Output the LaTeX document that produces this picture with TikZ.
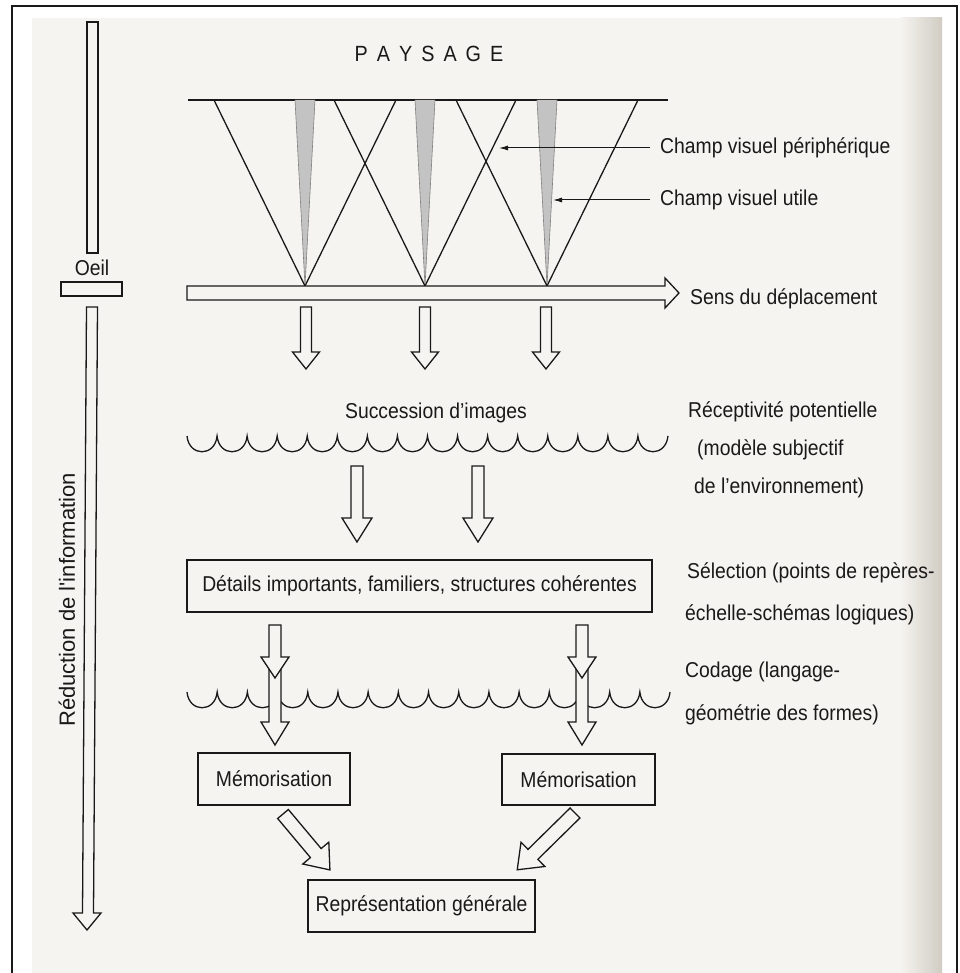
\documentclass[tikz,border=0pt]{standalone}
\usepackage{fontspec}
\setmainfont{Liberation Sans}[FakeStretch=0.9]
\newfontfamily\wideface{Liberation Sans}
\usetikzlibrary{arrows.meta}
\definecolor{pagebg}{RGB}{246,244,240}
\definecolor{gutter}{RGB}{208,204,196}
\definecolor{ink}{RGB}{25,25,25}
\definecolor{stipple}{RGB}{195,195,195}
\newcommand\hollowdown[6]{%
  \draw[harrow] (#1-#2,#4) -- (#1+#2,#4) -- (#1+#2,#5) -- (#1+#3,#5) -- (#1,#6)
    -- (#1-#3,#5) -- (#1-#2,#5) -- cycle;}
\newcommand\hollowdiag[4]{%
  \begin{scope}[shift={#1},rotate=#2]
    \draw[harrow] (0,-7) -- (#3-#4,-7) -- (#3-#4,-17) -- (#3,0) -- (#3-#4,17)
      -- (#3-#4,7) -- (0,7) -- cycle;
  \end{scope}}
\tikzset{
  inkline/.style={draw=ink, line width=1.3pt},
  harrow/.style={draw=ink, line width=1.3pt, fill=pagebg, line join=miter},
  lbl/.style={font=\fontsize{21.5}{25}\selectfont, text=ink, inner sep=0pt, anchor=west},
  boxnode/.style={draw=ink, line width=1.3pt, fill=pagebg, inner sep=0pt,
    font=\fontsize{21.5}{25}\selectfont, text=ink},
  pointer/.style={draw=ink, line width=1pt, -{Latex[length=9pt,width=5pt]}},
}
\begin{document}
\begin{tikzpicture}[x=1pt,y=-1pt]
\useasboundingbox (0,0) rectangle (959,973);
% page
\fill[white] (0,0) rectangle (959,973);
\fill[pagebg] (32,18) rectangle (942,973);
\shade[left color=pagebg, right color=gutter] (900,18) rectangle (942,973);
\draw[ink, line width=2pt] (12,980) -- (12,6) -- (957,6) -- (957,980);

% title
\node[font=\fontsize{22}{26}\selectfont, text=ink, inner sep=0pt] (paysage) at (429,54)
  {P\kern9pt A\kern9pt Y\kern9pt S\kern9pt A\kern9pt G\kern9pt E};

% landscape line and visual fields
\draw[inkline] (188,100) coordinate (hl) -- (668,100) coordinate (hr);
\coordinate (eye1) at (305,286);
\coordinate (eye2) at (425,286);
\coordinate (eye3) at (547,286);
\foreach \e/\c in {eye1/305,eye2/425,eye3/547}{
  \fill[stipple] (\c-10,100) -- (\e) -- (\c+10,100) -- cycle;
  \draw[gray, line width=0.6pt] (\c-10,100) -- (\e) -- (\c+10,100);
  \draw[inkline] (\c-91,100) -- (\e) -- (\c+91,100);
}

% labels with pointers
\node[lbl] (periph) at (660,148) {Champ visuel périphérique};
\node[lbl] (utile) at (660,200) {Champ visuel utile};
\coordinate (periphtip) at (499,148);
\coordinate (utiletip) at (553,200);
\draw[pointer] ([xshift=-10pt]periph.west) -- (periphtip);
\draw[pointer] ([xshift=-10pt]utile.west) -- (utiletip);

% direction arrow
\draw[harrow] (187,286) -- (665,286) -- (665,278) -- (679,293) -- (665,308)
  -- (665,300) -- (187,300) -- cycle;
\node[lbl] (sens) at (690,299) {Sens du déplacement};

% eye column
\draw[inkline, fill=pagebg] (87,22) rectangle (98,253);
\node[font=\fontsize{21.5}{25}\selectfont, text=ink, inner sep=0pt] (oeil) at (92,268) {Oeil};
\draw[inkline, fill=pagebg] (61,282) rectangle (122,296);
\draw[harrow] (86.5,307) -- (97.5,307) -- (93.5,913) -- (101,913) -- (87,930)
  -- (73,913) -- (82.5,913) -- cycle;
\node[font=\wideface\fontsize{22}{26}\selectfont, text=ink, rotate=90, inner sep=0pt]
  (reduc) at (67,600) {Réduction de l'information};

% three arrows from the eyes
\hollowdown{306}{5.5}{13.5}{307}{352}{369}
\hollowdown{425}{5.5}{13.5}{307}{352}{369}
\hollowdown{546}{5.5}{13.5}{307}{352}{369}

\node[font=\fontsize{21.5}{25}\selectfont, text=ink, inner sep=0pt] (succ) at (436,413)
  {Succession d'images};

% first scalloped line
\draw[inkline] (187,436) \foreach \i in {1,...,16}{ .. controls +(2,21) and +(-2,21) .. (187+\i*30.06,436) };

\node[lbl] (recep1) at (688,412) {Réceptivité potentielle};
\node[lbl] (recep2) at (697,450) {(modèle subjectif};
\node[lbl] (recep3) at (694,488) {de l'environnement)};

% two arrows
\hollowdown{357}{6}{15}{466}{518}{542}
\hollowdown{478}{6}{15}{466}{518}{542}

% selection box
\node[boxnode, minimum width=465pt, minimum height=52pt] (details) at (419.5,586)
  {Détails importants, familiers, structures cohérentes};
\node[lbl] (sel1) at (687,573) {Sélection (points de repères-};
\node[lbl] (sel2) at (685,615) {échelle-schémas logiques)};

% second scalloped line
\draw[inkline] (187,692) \foreach \i in {1,...,16}{ .. controls +(2,21) and +(-2,21) .. (187+\i*30.19,692) };
\node[lbl] (cod1) at (685,672) {Codage (langage-};
\node[lbl] (cod2) at (685,715) {géométrie des formes)};

% double arrows
\hollowdown{275}{6}{14}{669}{722}{745}
\hollowdown{275}{6}{14}{625}{657}{678}
\hollowdown{582}{6}{14}{669}{722}{745}
\hollowdown{582}{6}{14}{625}{657}{678}

% memorisation boxes
\node[boxnode, minimum width=152pt, minimum height=52pt] (mem1) at (274,779) {Mémorisation};
\node[boxnode, minimum width=153pt, minimum height=51pt] (mem2) at (578.5,779.5) {Mémorisation};

% diagonal arrows
\hollowdiag{(283,814)}{-50}{73}{22}
\hollowdiag{(575,813)}{-135.5}{81}{22}

% general representation
\node[boxnode, minimum width=227pt, minimum height=52pt] (rep) at (421.5,906)
  {Représentation générale};
\end{tikzpicture}
\end{document}
